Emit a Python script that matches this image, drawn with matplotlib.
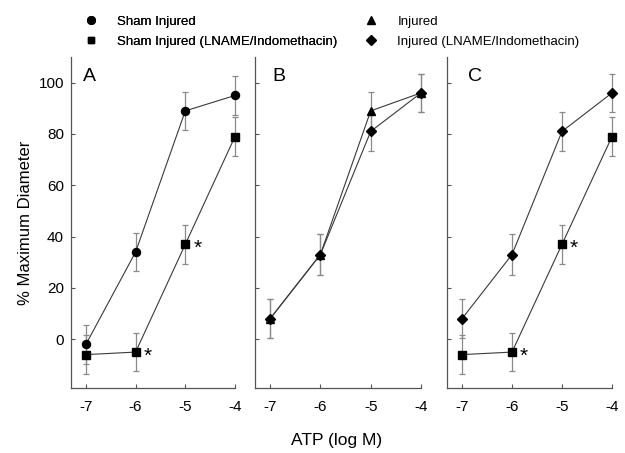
import matplotlib
matplotlib.use("Agg")
import matplotlib.pyplot as plt
from matplotlib.lines import Line2D

plt.rcParams["font.family"] = ["Liberation Sans", "DejaVu Sans"]

# concentraciones ATP (log M)
atp = [-7, -6, -5, -4]

# Sham Injured
sham = [-2, 34, 89, 95]
sham_err = [7.5, 7.5, 7.5, 7.5]
# Sham Injured (LNAME/Indomethacin)
sham_ln = [-6, -5, 37, 79]
sham_ln_err = [7.5, 7.5, 7.5, 7.5]
# Injured
inj = [8, 33, 89, 96]
inj_err = [7.5, 8, 7.5, 7.5]
# Injured (LNAME/Indomethacin)
inj_ln = [8, 33, 81, 96]
inj_ln_err = [7.5, 8, 7.5, 7.5]

yticks = [0, 20, 40, 60, 80, 100]

fig = plt.figure(figsize=(6.25, 4.53), dpi=100)

ax_a = fig.add_axes([0.1136, 0.1435, 0.2624, 0.7307])
ax_b = fig.add_axes([0.408, 0.1435, 0.2656, 0.7307])
ax_c = fig.add_axes([0.7152, 0.1435, 0.264, 0.7307])


def serie(ax, y, err, marker, ms):
    ax.errorbar(atp, y, yerr=err, fmt="none", ecolor="#8a8a8a", elinewidth=0.9,
                capsize=2.5, capthick=0.9, clip_on=False, zorder=2)
    ax.plot(atp, y, color="#3a3a3a", lw=0.8, marker=marker, ms=ms,
            mfc="black", mec="black", clip_on=False, zorder=3)


serie(ax_a, sham, sham_err, "o", 5.8)
serie(ax_a, sham_ln, sham_ln_err, "s", 5.2)

serie(ax_b, inj, inj_err, "^", 6)
serie(ax_b, inj_ln, inj_ln_err, "D", 5)

serie(ax_c, inj_ln, inj_ln_err, "D", 5)
serie(ax_c, sham_ln, sham_ln_err, "s", 5.2)

# asteriscos de significancia
for ax in (ax_a, ax_c):
    for i in (1, 2):
        ax.text(atp[i] + 0.24, sham_ln[i] - 1.5, "*", fontsize=15,
                ha="center", va="center")

letras = {ax_a: ("A", 0.11), ax_b: ("B", 0.145), ax_c: ("C", 0.17)}
for ax in (ax_a, ax_b, ax_c):
    ax.set_xlim(-7.3, -4.0)
    ax.set_ylim(-19, 110)
    ax.set_xticks(atp)
    ax.set_xticklabels([str(v) for v in atp])
    ax.set_yticks(yticks)
    for s in ("top", "right"):
        ax.spines[s].set_visible(False)
    for s in ("left", "bottom"):
        ax.spines[s].set_color("#555555")
        ax.spines[s].set_linewidth(0.9)
    ax.tick_params(axis="both", direction="in", length=3, width=0.8,
                   color="#555555", labelsize=11)
    ax.tick_params(axis="x", pad=9)
    ax.tick_params(axis="y", pad=5)
    letra, xf = letras[ax]
    ax.text(xf, 0.94, letra, transform=ax.transAxes, fontsize=14,
            ha="center", va="center")

ax_b.tick_params(axis="y", labelleft=False)
ax_c.tick_params(axis="y", labelleft=False)

ax_a.set_ylabel("% Maximum Diameter", fontsize=12, labelpad=4)
fig.text(0.539, 0.028, "ATP (log M)", fontsize=12.5, ha="center", va="center")

# leyenda de arriba, dos columnas separadas
h1 = [Line2D([], [], ls="none", marker="o", ms=5.5, color="black"),
      Line2D([], [], ls="none", marker="s", ms=5, color="black")]
h2 = [Line2D([], [], ls="none", marker="^", ms=5.5, color="black"),
      Line2D([], [], ls="none", marker="D", ms=4.8, color="black")]
etiq1 = ["Sham Injured", "Sham Injured (LNAME/Indomethacin)"]
etiq2 = ["Injured", "Injured (LNAME/Indomethacin)"]
leg1 = fig.legend(h1, etiq1, loc="upper left", bbox_to_anchor=(0.116, 0.992),
                  frameon=False, fontsize=9.5, handlelength=1.0,
                  handletextpad=1.5, labelspacing=0.6)
fig.add_artist(leg1)
fig.legend(h2, etiq2, loc="upper left", bbox_to_anchor=(0.564, 0.992),
           frameon=False, fontsize=9.5, handlelength=1.0,
           handletextpad=1.5, labelspacing=0.6)

fig.savefig("out.png", dpi=100)
